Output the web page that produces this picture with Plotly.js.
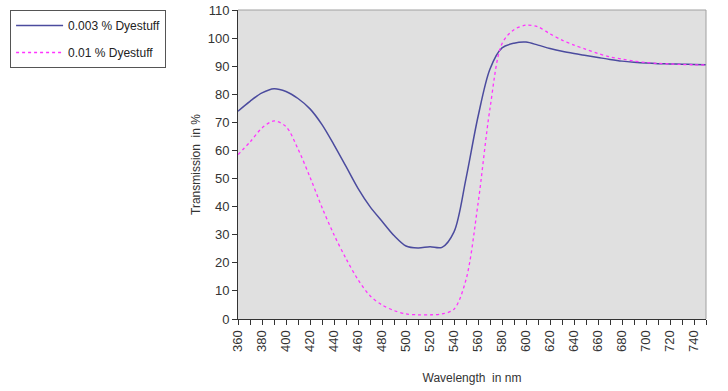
<!DOCTYPE html>
<html>
<head>
<meta charset="utf-8">
<script src="https://cdn.plot.ly/plotly-3.0.1.min.js"></script>
<style>html,body{margin:0;padding:0;background:#fff;}#chart{width:728px;height:391px;}</style>
</head>
<body>
<div id="chart"></div>
<script>
const wavelength = [360,370,380,390,400,410,420,430,440,450,460,470,480,490,500,510,520,530,540,550,560,570,580,590,600,610,620,630,640,650,660,670,680,690,700,710,720,730,740,750];
const dye003 = [74,77.5,80.5,82,81,78.5,74.8,69.2,62,54.3,46.5,40,34.8,29.7,26,25.3,25.7,25.5,31,50,72,89,96.5,98.2,98.6,97.5,96.3,95.3,94.5,93.8,93.1,92.4,91.8,91.4,91.1,90.9,90.8,90.7,90.6,90.5];
const dye001 = [58.5,63,68,70.5,68.5,60.5,50.5,39.7,30,21.5,14,8.3,5,3,1.8,1.5,1.5,1.8,3.5,14,41,75,98,103,104.6,104,101.5,99.3,97.5,96,94.5,93.3,92.5,91.8,91.3,91,90.8,90.6,90.5,90.4];
const seriesNames = ["0.003 % Dyestuff", "0.01 % Dyestuff"];
const xTickVals = [360,380,400,420,440,460,480,500,520,540,560,580,600,620,640,660,680,700,720,740];
const yTickVals = [0,10,20,30,40,50,60,70,80,90,100,110];

const family = "Liberation Sans, Arial, sans-serif";
const tickFont = {family: family, size: 13, color: "#333"};

const traces = [
  {x: wavelength, y: dye003, name: seriesNames[0], type: "scatter", mode: "lines",
   line: {color: "#4b4b9e", width: 1.5, shape: "spline", smoothing: 0.9}, legendgroup: "a"},
  {x: wavelength, y: dye001, name: seriesNames[1], type: "scatter", mode: "lines",
   line: {color: "#ff33ff", width: 1.3, dash: "dot", shape: "spline", smoothing: 0.9}, legendgroup: "b"}
];

const layout = {
  width: 728, height: 391,
  margin: {l: 238, r: 22, t: 10, b: 72},
  paper_bgcolor: "#ffffff",
  plot_bgcolor: "#e0e0e0",
  font: {family: family, size: 12, color: "#333"},
  showlegend: true,
  legend: {x: -0.487, y: 1, xanchor: "left", yanchor: "top",
    bgcolor: "#ffffff", bordercolor: "#555", borderwidth: 1, entrywidth: 152, itemwidth: 47,
    font: {family: family, size: 12, color: "#222"}, tracegroupgap: 8},
  xaxis: {range: [360, 750], tickvals: xTickVals, tickangle: -90,
    showgrid: false, zeroline: false, showline: true, linecolor: "#333", linewidth: 1,
    ticks: "outside", ticklen: 5, tickcolor: "#333",
    minor: {dtick: 10, tick0: 360, ticks: "outside", ticklen: 5, tickcolor: "#333"},
    title: {text: "Wavelength  in nm", font: {family: family, size: 12, color: "#333"}, standoff: 22},
    tickfont: tickFont},
  xaxis2: {range: [360, 750], overlaying: "x", anchor: "y", side: "bottom", dtick: 10, tick0: 360,
    showticklabels: false, showgrid: false, zeroline: false, showline: false,
    ticks: "inside", ticklen: 5, tickcolor: "#333"},
  yaxis: {range: [0, 110], tickvals: yTickVals,
    showgrid: false, zeroline: false, showline: true, linecolor: "#333", linewidth: 1,
    ticks: "outside", ticklen: 5, tickcolor: "#333",
    title: {text: "Transmission  in %", font: {family: family, size: 12, color: "#333"}, standoff: 4},
    tickfont: tickFont},
  shapes: [
    {type: "line", xref: "paper", yref: "paper", x0: 0, x1: 1, y0: 1, y1: 1, line: {color: "#a0a0a0", width: 1}},
    {type: "line", xref: "paper", yref: "paper", x0: 1, x1: 1, y0: 0, y1: 1, line: {color: "#a0a0a0", width: 1}}
  ]
};

Plotly.newPlot("chart", traces, layout, {displayModeBar: false, staticPlot: true});
</script>
</body>
</html>
